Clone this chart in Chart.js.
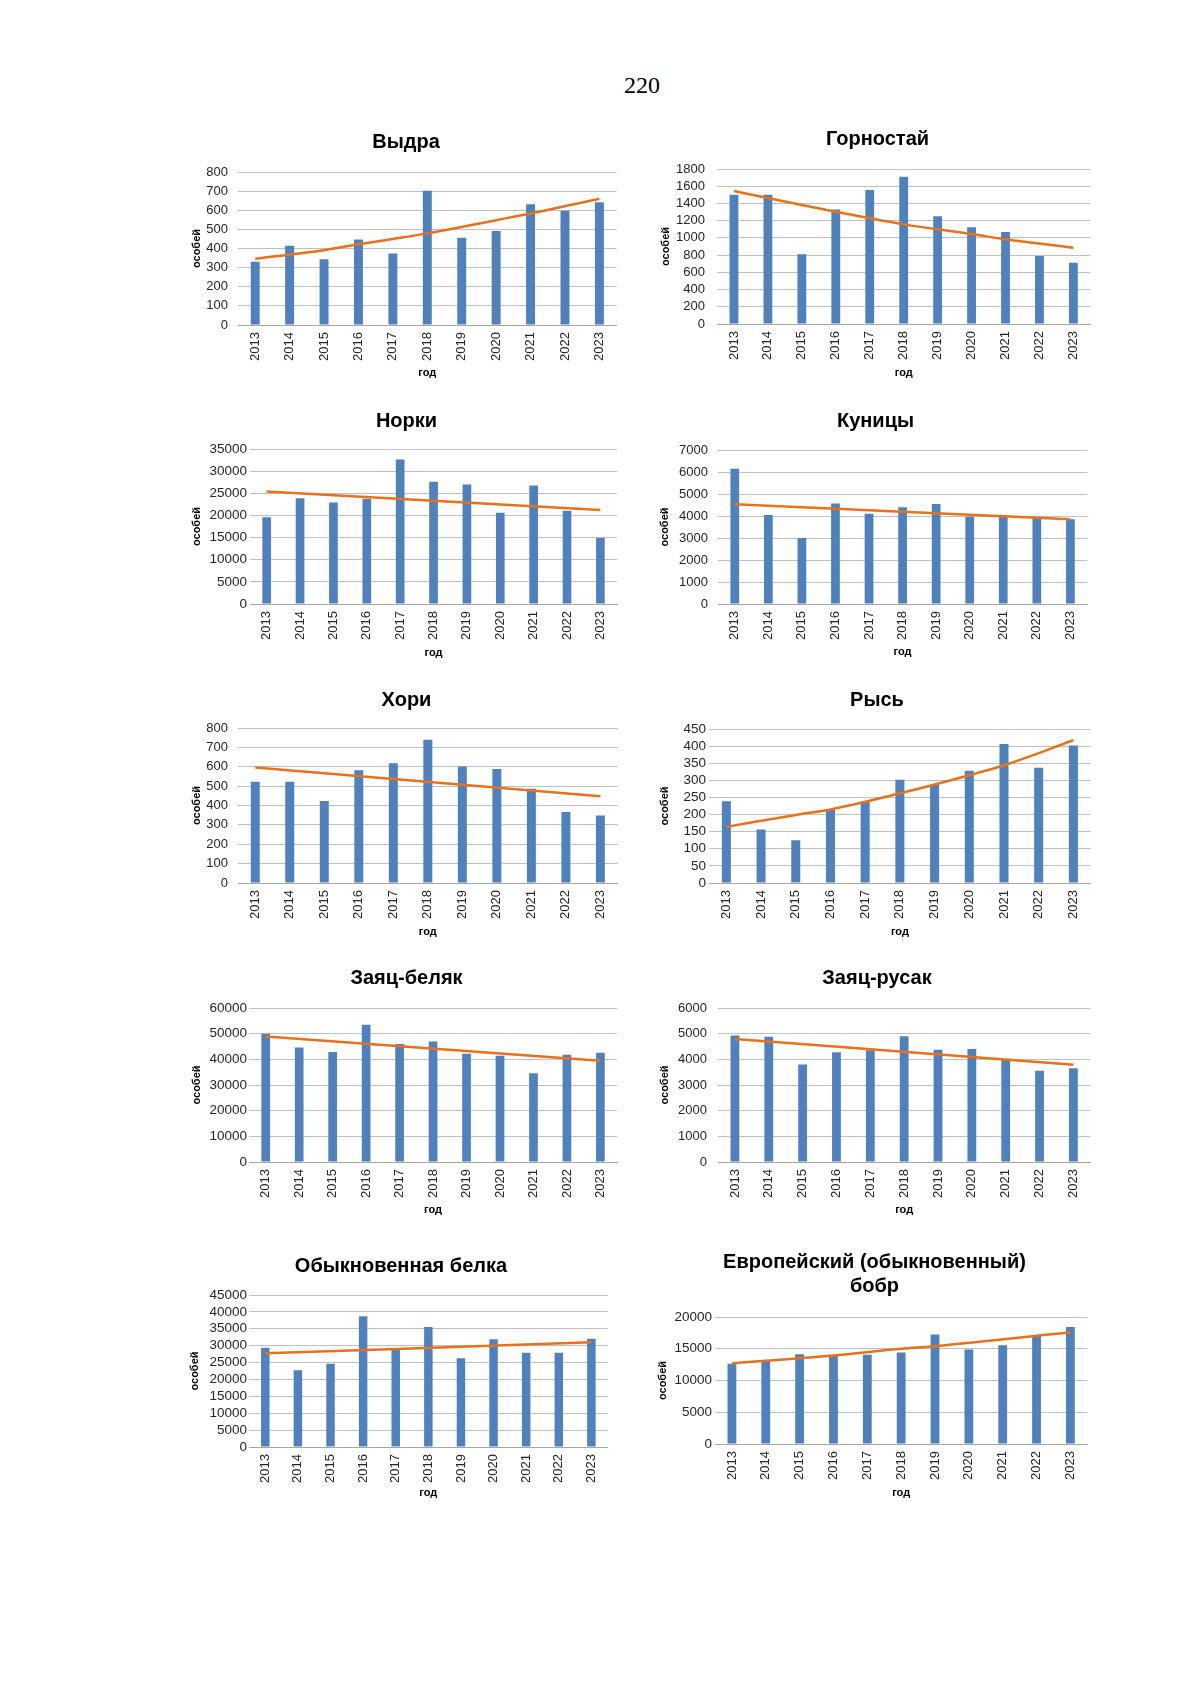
<!DOCTYPE html>
<html lang="ru">
<head>
<meta charset="utf-8">
<title>220</title>
<script src="https://cdn.jsdelivr.net/npm/chart.js@4.4.1/dist/chart.umd.min.js"></script>
<style>
    body { margin: 0; background: #fff; }
    #page { position: relative; width: 1200px; height: 1697px; overflow: hidden; }
    #pageNum { position: absolute; left: 592px; top: 71px; width: 100px; text-align: center;
               font: 24px/28px "Liberation Serif", "Times New Roman", serif; color: #000; }
    .box { position: absolute; }
</style>
</head>
<body>
<div id="page">
    <div id="pageNum">220</div>
</div>
<script>
"use strict";

var years = ['2013', '2014', '2015', '2016', '2017', '2018', '2019', '2020', '2021', '2022', '2023'];

var vydra = [331, 415, 344, 447, 374, 702, 456, 491, 632, 597, 642];
var vydraTrend = [347, null, 391, 422, 450, 479, null, 548, 583, null, 660];

var gornostay = [1500, 1500, 810, 1330, 1555, 1710, 1250, 1125, 1068, 790, 712];
var gornostayTrend = [1545, null, 1382, 1304, null, 1157, null, 1045, 983, null, 886];

var norki = [19600, 23900, 22900, 23750, 32650, 27600, 27000, 20600, 26770, 21040, 14930];
var norkiTrend = [25400, null, null, null, null, null, null, null, null, null, 21200];

var kunitsy = [6150, 4050, 3000, 4570, 4100, 4400, 4540, 3970, 3960, 3940, 3850];
var kunitsyTrend = [4535, null, null, null, null, null, null, null, null, null, 3850];

var khori = [523, 523, 423, 582, 618, 740, 601, 589, 487, 367, 348];
var khoriTrend = [596, null, null, null, null, null, null, null, null, null, 448];

var rys = [239, 156, 125, 213, 238, 302, 287, 328, 406, 337, 402];
var rysTrend = [164, null, 199, 215, null, 262, null, 315, 344, null, 417];

var belyak = [50000, 44630, 42820, 53430, 45930, 46960, 42170, 41400, 34540, 41790, 42560];
var belyakTrend = [48900, null, null, null, null, null, null, null, null, null, 39460];

var rusak = [4930, 4880, 3800, 4280, 4350, 4900, 4370, 4400, 3970, 3560, 3650];
var rusakTrend = [4790, null, null, null, null, null, null, null, null, null, 3790];

var belka = [29400, 22700, 24670, 38680, 29000, 35520, 26250, 31870, 27930, 27930, 32070];
var belkaTrend = [27730, null, null, null, null, null, null, null, null, null, 30990];

var bobr = [12640, 13100, 14150, 14000, 14050, 14410, 17230, 14880, 15560, 17020, 18430];
var bobrTrend = [12690, null, null, 13940, null, 14990, 15400, null, null, null, 17600];

// L/R/T/B - plot area on the page, titleY - first title line, labelX - "особей", godY - "год"
var panels = [
    { title: 'Выдра', counts: vydra, trend: vydraTrend, max: 800, step: 100, tick: 13, pad: 10,
      L: 238, R: 622, T: 172, B: 325, titleY: 143, labelX: 197, godY: 373 },
    { title: 'Горностай', counts: gornostay, trend: gornostayTrend, max: 1800, step: 200, tick: 13, pad: 12,
      L: 717, R: 1096, T: 169, B: 324, titleY: 140, labelX: 666, godY: 373 },
    { title: 'Норки', counts: norki, trend: norkiTrend, max: 35000, step: 5000, tick: 13.5, pad: 3,
      L: 250, R: 623, T: 449, B: 604, titleY: 422, labelX: 197, godY: 653 },
    { title: 'Куницы', counts: kunitsy, trend: kunitsyTrend, max: 7000, step: 1000, tick: 13, pad: 10,
      L: 718, R: 1093, T: 450, B: 604, titleY: 422, labelX: 665, godY: 652 },
    { title: 'Хори', counts: khori, trend: khoriTrend, max: 800, step: 100, tick: 13, pad: 10,
      L: 238, R: 623, T: 728, B: 883, titleY: 701, labelX: 197, godY: 932 },
    { title: 'Рысь', counts: rys, trend: rysTrend, max: 450, step: 50, tick: 13.5, pad: 3,
      L: 709, R: 1096, T: 729, B: 883, titleY: 701, labelX: 665, godY: 932 },
    { title: 'Заяц-беляк', counts: belyak, trend: belyakTrend, max: 60000, step: 10000, tick: 13.5, pad: 2,
      L: 249, R: 623, T: 1008, B: 1162, titleY: 979, labelX: 197, godY: 1210 },
    { title: 'Заяц-русак', counts: rusak, trend: rusakTrend, max: 6000, step: 1000, tick: 13, pad: 11,
      L: 718, R: 1096, T: 1008, B: 1162, titleY: 979, labelX: 665, godY: 1210 },
    { title: 'Обыкновенная белка', counts: belka, trend: belkaTrend, max: 45000, step: 5000, tick: 13.5, pad: 2,
      L: 249, R: 614, T: 1295, B: 1447, titleY: 1267, labelX: 195, godY: 1493 },
    { title: ['Европейский (обыкновенный)', 'бобр'], counts: bobr, trend: bobrTrend, max: 20000, step: 5000, tick: 13.5, pad: 3,
      L: 715, R: 1093, T: 1317, B: 1444, titleY: 1263, labelX: 663, godY: 1493 }
];

var fontFamily = '"Liberation Sans", Arial, sans-serif';
var titleLine = 20 * 1.17;
var axisTitleLine = 11 * 1.2;

panels.forEach(function (p, i) {
    var lines = Array.isArray(p.title) ? p.title.length : 1;
    var left = Math.round(p.labelX - axisTitleLine / 2);
    var top = Math.round(p.titleY - titleLine / 2);
    var bottom = Math.round(p.godY + axisTitleLine / 2);
    var yW = p.L - left;
    var xH = bottom - p.B;
    var gap = p.T - top - titleLine * lines;

    var box = document.createElement('div');
    box.className = 'box';
    box.style.left = left + 'px';
    box.style.top = top + 'px';
    box.style.width = (p.R - left) + 'px';
    box.style.height = (bottom - top) + 'px';
    var canvas = document.createElement('canvas');
    canvas.id = 'chart' + i;
    box.appendChild(canvas);
    document.getElementById('page').appendChild(box);

    new Chart(canvas.getContext('2d'), {
        type: 'bar',
        data: {
            labels: years,
            datasets: [{
                type: 'line',
                data: p.trend,
                borderColor: '#E8711E',
                borderWidth: 2.5,
                pointRadius: 0,
                fill: false,
                spanGaps: true,
                cubicInterpolationMode: 'monotone',
                order: 0
            }, {
                type: 'bar',
                data: p.counts,
                backgroundColor: '#4F81BD',
                borderWidth: 0,
                barPercentage: 0.26,
                categoryPercentage: 1,
                order: 1
            }]
        },
        options: {
            responsive: true,
            maintainAspectRatio: false,
            animation: false,
            layout: { padding: 0 },
            plugins: {
                legend: { display: false },
                tooltip: { enabled: false },
                title: {
                    display: true,
                    text: p.title,
                    color: '#000',
                    font: { family: fontFamily, size: 20, weight: 'bold', lineHeight: 1.17 },
                    padding: { top: 0, bottom: gap }
                }
            },
            scales: {
                x: {
                    grid: { display: false, drawTicks: false },
                    border: { display: true, color: '#A6A6A6', width: 1 },
                    ticks: {
                        autoSkip: false, maxRotation: 90, minRotation: 90, padding: 7,
                        color: '#262626', font: { family: fontFamily, size: 13 }
                    },
                    title: {
                        display: true, text: 'год', color: '#000', padding: 0,
                        font: { family: fontFamily, size: 11, weight: 'bold' }
                    },
                    afterFit: function (scale) { scale.height = xH; }
                },
                y: {
                    min: 0,
                    max: p.max,
                    grid: { color: '#C0C0C0', lineWidth: 1, drawTicks: false },
                    border: { display: false },
                    ticks: {
                        stepSize: p.step, autoSkip: false, padding: p.pad, color: '#262626',
                        font: { family: fontFamily, size: p.tick },
                        callback: function (value) { return String(value); }
                    },
                    title: {
                        display: true, text: 'особей', color: '#000', padding: 0,
                        font: { family: fontFamily, size: 11, weight: 'bold' }
                    },
                    afterFit: function (scale) { scale.width = yW; }
                }
            }
        }
    });
});
</script>
</body>
</html>
